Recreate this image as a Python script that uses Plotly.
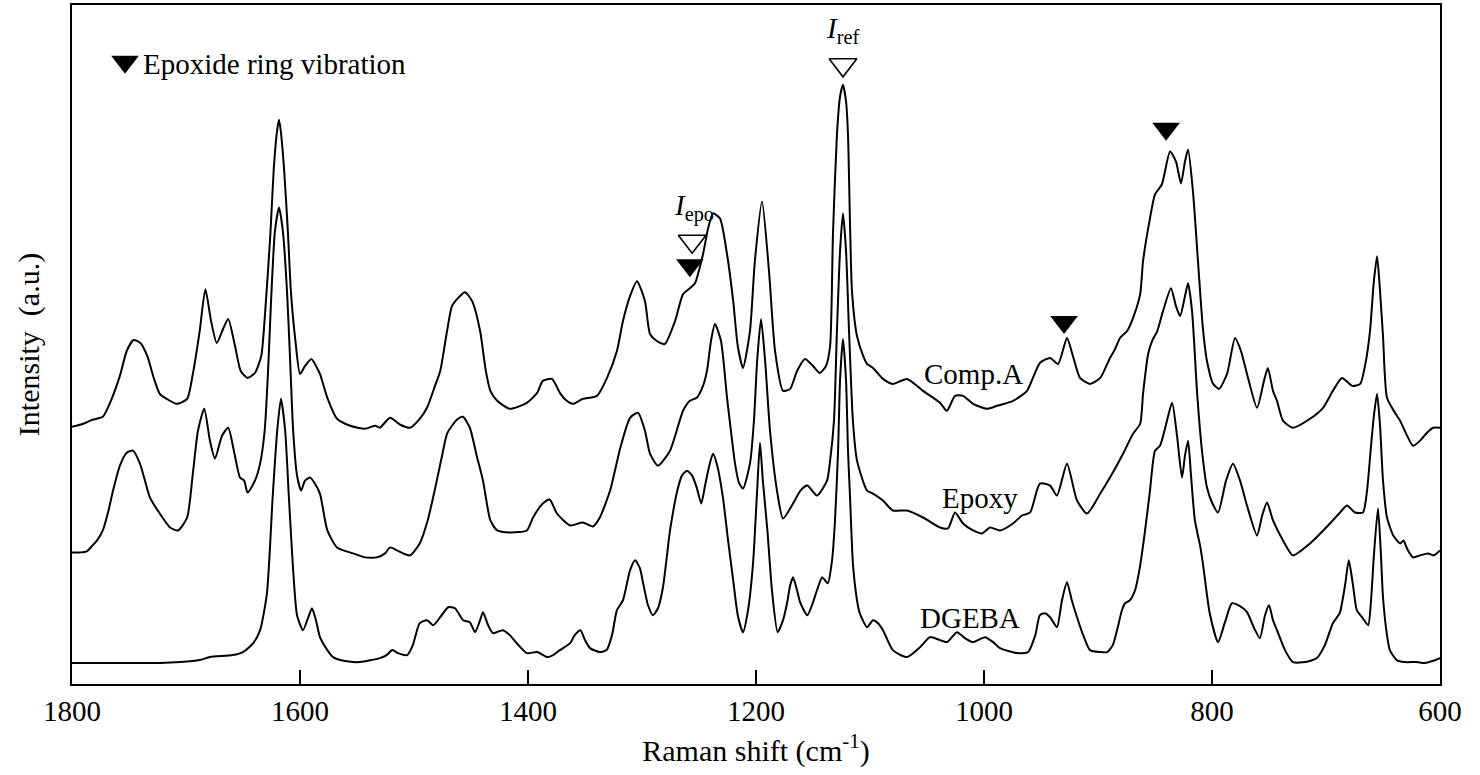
import plotly.graph_objects as go

# Raman spectra (wavenumber in cm^-1, stacked intensity in a.u.)
comp_a_wn = [1800, 1790, 1782, 1773, 1767, 1758, 1752, 1746, 1740, 1734, 1728, 1723, 1717, 1708, 1699,
             1694, 1688, 1683, 1678, 1673, 1667.5, 1663, 1657, 1652, 1646, 1639.5, 1634, 1631, 1626, 1623,
             1620, 1618.4, 1617, 1614, 1610.5, 1608, 1604, 1600, 1595.6, 1590, 1586, 1582.5, 1576, 1567.5,
             1556, 1543, 1534, 1530, 1521, 1512, 1503.5, 1495, 1488.6, 1481.6, 1477, 1471, 1466.7, 1461.4,
             1455.3, 1449, 1442, 1437, 1433, 1427, 1416, 1401, 1392, 1387, 1379, 1372, 1366, 1360.5, 1352,
             1339.5, 1330.7, 1322, 1316.7, 1310.5, 1304.4, 1297.4, 1293, 1287, 1280, 1271, 1264, 1258,
             1253.5, 1246.5, 1242, 1237.7, 1231.6, 1225.4, 1220, 1216, 1211.4, 1205.3, 1201, 1194.7,
             1188.6, 1183.3, 1176.3, 1170, 1164, 1157, 1150, 1144, 1138.6, 1135, 1132.5, 1129, 1126.3,
             1123.7, 1121, 1119.3, 1115.8, 1111.4, 1106, 1102.6, 1097.4, 1088.6, 1080, 1067.5, 1053.5,
             1038.6, 1032.5, 1025.4, 1018.4, 1009.6, 997.4, 988.6, 974.5, 962.3, 951, 942, 935, 927.2, 922,
             915.8, 907, 898, 889.5, 885, 880.7, 874.5, 869.3, 863, 860.5, 854.4, 850, 844, 836.8, 831.6,
             827.2, 823.7, 821, 816.7, 812.3, 808, 804.4, 799, 793.8, 786.8, 779.8, 774.6, 769.3, 760.5,
             754.4, 751, 746.5, 743, 737.7, 729, 714, 702.6, 694, 686, 677, 670, 665, 661.4, 658, 655.2,
             652.6, 650, 646.5, 639.5, 635, 623.7, 617.5, 611.4, 606, 600]
comp_a_int = [2.58, 2.61, 2.65, 2.68, 2.81, 3.09, 3.34, 3.45, 3.42, 3.29, 3.06, 2.91, 2.86, 2.81, 2.86,
              3.11, 3.54, 3.96, 3.64, 3.42, 3.56, 3.66, 3.39, 3.14, 3.07, 3.12, 3.29, 3.66, 4.51, 5.17,
              5.56, 5.66, 5.56, 5.17, 4.51, 3.94, 3.44, 3.11, 3.19, 3.26, 3.19, 3.11, 2.87, 2.66,
              2.59, 2.56, 2.59, 2.57, 2.67, 2.60, 2.57, 2.66, 2.77, 2.99, 3.14, 3.54, 3.79, 3.87,
              3.93, 3.84, 3.54, 3.14, 2.94, 2.84, 2.76, 2.82, 2.92, 3.04, 3.06, 2.92, 2.84, 2.81, 2.86,
              2.89, 3.07, 3.34, 3.64, 3.89, 4.04, 3.84, 3.51, 3.44, 3.41, 3.64, 3.91, 3.97,
              4.02, 4.31, 4.57, 4.72, 4.67, 4.31, 3.84, 3.39, 3.17, 3.54, 4.24, 4.84,
              4.14, 3.34, 2.94, 2.96, 3.14, 3.26, 3.19, 3.12, 3.19, 3.39, 4.51, 5.51, 5.89,
              6.01, 5.84, 5.51, 3.94, 3.49, 3.29, 3.21, 3.17, 3.06, 3.01, 3.06, 2.94,
              2.82, 2.74, 2.89, 2.89, 2.81, 2.76, 2.79, 2.84, 2.94, 3.22, 3.27, 3.21, 3.47, 3.29,
              3.07, 3.01, 3.07, 3.27, 3.36, 3.47, 3.54, 3.67, 3.91, 4.24, 4.67, 4.91, 5.01, 5.34, 5.24,
              5.02, 5.24, 5.36, 4.94, 4.24, 3.57, 3.24, 3.01, 2.96, 3.11, 3.47, 3.34, 3.11, 2.77,
              3.04, 3.17, 2.94, 2.84, 2.64, 2.57, 2.66, 2.77, 2.94, 3.07, 2.99, 3.01, 3.24, 3.54, 4.04, 4.29,
              3.94, 3.49, 2.87, 2.72, 2.64, 2.39, 2.44, 2.52, 2.57, 2.57]

epoxy_wn = [1800, 1793, 1787, 1782, 1778, 1773, 1768.4, 1764, 1758, 1752, 1746.5, 1740.4, 1736, 1731.6,
            1723, 1714, 1707, 1699, 1694, 1689.5, 1684, 1679, 1674.6, 1668.4, 1663, 1658, 1652.6, 1649,
            1646, 1639.5, 1635, 1631, 1628, 1625.4, 1622, 1618.4, 1615, 1611.4, 1609, 1606, 1602.6, 1599,
            1595.6, 1591, 1587, 1582.5, 1576, 1567.5, 1553.5, 1543, 1532.5, 1525.4, 1521, 1515, 1509.6,
            1503.5, 1495, 1488, 1480, 1475.4, 1471, 1466.7, 1461.4, 1457, 1451, 1445, 1439.5, 1433, 1427,
            1416, 1401, 1395.6, 1387, 1381, 1374.6, 1363, 1352, 1343, 1337, 1328, 1319, 1310.5, 1303.5,
            1297.4, 1293, 1286, 1275.4, 1264, 1258, 1252, 1246.5, 1243, 1239.5, 1236, 1230.7, 1225.4,
            1222, 1218.4, 1215, 1211.4, 1205.3, 1201.8, 1199, 1195.6, 1192, 1187.7, 1181.6, 1176.3,
            1167.5, 1161, 1155, 1146.5, 1137.7, 1135, 1131.6, 1129, 1126.3, 1123.7, 1121, 1118.4, 1115,
            1111.4, 1102.6, 1097.4, 1088.6, 1080, 1067.5, 1053.5, 1038.6, 1031.6, 1025.4, 1018.4, 1009.6,
            1001.7, 994.7, 986, 974.5, 966.7, 959.6, 951, 942, 936, 927.2, 918.4, 909.6, 898, 889.5, 878,
            869.3, 863, 860.5, 856, 852.6, 848, 843, 836, 831.6, 828, 823.7, 821, 817.5, 813, 808.8,
            804.4, 800, 794.7, 787.7, 781.6, 775.4, 769.3, 760.5, 756, 751.7, 746.5, 737.7, 729, 714,
            696.5, 687.7, 681.6, 674.6, 667.6, 664, 660.5, 658, 655.2, 652.6, 650, 646.5, 641, 635, 632,
            629, 623.7, 617.5, 610.5, 605.5, 600]
epoxy_int = [1.32, 1.32, 1.33, 1.39, 1.44, 1.54, 1.72, 1.94, 2.19, 2.32, 2.34, 2.21, 2.04, 1.87,
             1.71, 1.57, 1.54, 1.67, 2.11, 2.54, 2.76, 2.44, 2.26, 2.49, 2.57, 2.34, 2.07, 2.04,
             1.92, 2.04, 2.21, 2.54, 3.14, 3.84, 4.54, 4.78, 4.54, 3.94, 3.34, 2.54, 2.09, 1.94,
             2.04, 2.07, 2.01, 1.91, 1.54, 1.37, 1.31, 1.27, 1.27, 1.31, 1.37, 1.34, 1.31,
             1.29, 1.41, 1.64, 2.04, 2.29, 2.51, 2.59, 2.66, 2.68, 2.57, 2.29, 2.04, 1.64, 1.54,
             1.52, 1.54, 1.67, 1.81, 1.85, 1.71, 1.59, 1.62, 1.58, 1.67, 1.94, 2.37, 2.67, 2.72,
             2.54, 2.31, 2.19, 2.34, 2.74, 2.84, 2.87, 2.99, 3.14, 3.44, 3.61, 3.44, 2.87,
             2.54, 2.21, 2.02, 1.96, 2.21, 2.64, 3.24, 3.66, 3.24, 2.54, 1.94, 1.66,
             1.81, 1.94, 1.99, 1.89, 2.04, 2.24, 2.64, 3.54, 4.34, 4.72, 4.34, 3.54, 2.64,
             2.24, 1.94, 1.91, 1.84, 1.74, 1.74, 1.67, 1.57, 1.56, 1.72, 1.61, 1.54,
             1.51, 1.57, 1.54, 1.61, 1.69, 1.72, 2.01, 1.99, 1.89, 2.21, 1.84, 1.71, 1.91, 2.07, 2.31,
             2.51, 2.61, 2.91, 3.31, 3.44, 3.54, 3.74, 3.97, 3.79, 3.69, 3.89, 4.02, 3.74, 2.91, 2.34,
             1.97, 1.82, 1.72, 2.04, 2.21, 2.04, 1.79, 1.49, 1.69, 1.82, 1.64, 1.44, 1.29, 1.41,
             1.61, 1.72, 1.79, 1.72, 1.72, 1.94, 2.39, 2.69, 2.91, 2.59, 2.04, 1.67, 1.49, 1.41, 1.44,
             1.36, 1.27, 1.29, 1.31, 1.29, 1.34]

dgeba_wn = [1800, 1775.4, 1749, 1723, 1705, 1688, 1679, 1659, 1650, 1641, 1635, 1629, 1624, 1620,
            1616.7, 1613, 1609.6, 1606, 1602.6, 1597.4, 1593, 1589.5, 1586, 1582.5, 1576, 1571, 1560.5,
            1547.4, 1530, 1524, 1519, 1514, 1506, 1501, 1495, 1488.6, 1483, 1477, 1470, 1464, 1457, 1451,
            1446.5, 1442, 1439.5, 1435, 1430.7, 1422, 1416, 1410, 1401, 1392, 1383, 1378, 1372, 1363,
            1359, 1354, 1350, 1345.6, 1337, 1331, 1326.3, 1322, 1316.7, 1310.5, 1306, 1301.8, 1299,
            1294.7, 1290.4, 1286, 1281.6, 1275.4, 1269, 1265, 1260.5, 1256, 1252, 1248, 1244.7, 1241,
            1237.7, 1234, 1229, 1224.5, 1220, 1216, 1211.4, 1207, 1202.6, 1199, 1196.5, 1194, 1190, 1186,
            1181, 1176.3, 1172.8, 1170, 1167.5, 1164, 1161, 1155, 1150.9, 1146.5, 1142, 1139.5, 1137,
            1133.3, 1130.7, 1128, 1126.3, 1123.7, 1121, 1119.3, 1117.5, 1115, 1111.4, 1109, 1102.6,
            1097.4, 1093, 1088.6, 1080, 1067.5, 1056, 1047.4, 1038.6, 1032.5, 1023.7, 1016.7, 1009.6,
            999, 992, 986, 971, 961.4, 955, 951, 946.5, 942, 936, 931.6, 927.2, 923, 918.4, 913, 907, 898,
            892, 887, 883.3, 879, 876.3, 872, 867.5, 863, 858.7, 854.4, 850, 845.6, 841, 835, 830.7,
            826.3, 823.7, 821, 818.4, 815, 810.5, 808, 802, 794.7, 788.6, 782.5, 775.4, 769.3, 763, 758,
            753.5, 750, 746.5, 743, 736, 729, 718, 708, 701, 694, 688, 683.3, 680, 676.3, 673, 668.4, 663,
            660.5, 658, 654.4, 652, 650, 646.5, 644, 638, 631, 620.5, 613.5, 606.6, 600]
dgeba_int = [0.21, 0.21, 0.21, 0.21, 0.22, 0.24, 0.27, 0.29, 0.32, 0.41, 0.54, 0.91, 1.87, 2.54,
             2.86, 2.54, 1.84, 1.14, 0.69, 0.54, 0.66, 0.76, 0.64, 0.47, 0.34, 0.27, 0.23,
             0.22, 0.26, 0.29, 0.34, 0.31, 0.29, 0.39, 0.61, 0.64, 0.59, 0.67, 0.77, 0.76, 0.64, 0.62,
             0.52, 0.64, 0.72, 0.59, 0.51, 0.54, 0.49, 0.41, 0.31, 0.32, 0.27, 0.29, 0.34, 0.41,
             0.49, 0.54, 0.44, 0.36, 0.32, 0.34, 0.49, 0.74, 0.84, 1.14, 1.24, 1.16, 1.01,
             0.79, 0.69, 0.76, 0.97, 1.54, 1.94, 2.09, 2.14, 2.09, 1.97, 1.81, 1.99, 2.19,
             2.31, 2.19, 1.87, 1.44, 1.04, 0.69, 0.52, 0.74, 1.21, 1.94, 2.42, 2.04, 1.54, 0.94,
             0.52, 0.64, 0.81, 0.99, 1.07, 0.94, 0.81, 0.69, 0.79, 0.94, 1.07, 1.04, 1.01,
             1.24, 1.64, 2.34, 3.04, 3.46, 3.04, 2.34, 1.87, 1.21, 0.84, 0.71, 0.57,
             0.64, 0.61, 0.54, 0.34, 0.27, 0.37, 0.47, 0.44, 0.42, 0.52, 0.46, 0.42,
             0.47, 0.42, 0.36, 0.31, 0.32, 0.49, 0.69, 0.71, 0.67, 0.57, 0.84, 1.02, 0.84, 0.67, 0.49, 0.34, 0.32,
             0.32, 0.39, 0.54, 0.74, 0.81, 0.84, 0.94, 1.19, 1.54, 1.94, 2.34, 2.39, 2.57, 2.82, 2.49,
             2.07, 2.29, 2.44, 2.09, 1.64, 1.39, 1.21, 0.71, 0.42, 0.62, 0.81, 0.78, 0.72, 0.56, 0.46,
             0.69, 0.79, 0.64, 0.54, 0.34, 0.22, 0.22, 0.26, 0.39, 0.61, 0.71, 0.99, 1.24, 0.99, 0.74, 0.67, 0.59,
             0.84, 1.29, 1.76, 1.34, 0.87, 0.49, 0.34, 0.24, 0.22, 0.22, 0.21, 0.23, 0.26]

# Sample labels placed beside each spectrum
sample_names = ["Comp.A", "Epoxy", "DGEBA"]
sample_label_wn = [1009.6, 1003.5, 1012.3]
sample_label_int = [3.11, 1.87, 0.66]

# Epoxide ring vibration bands (filled markers) and the two reference bands (open markers)
epoxide_band_wn = [1258, 929.8, 840.3]
epoxide_band_int = [4.20, 3.63, 5.57]
ratio_band_wn = [1256, 1123.7]
ratio_band_int = [4.44, 6.21]
ratio_band_text = ["<i>I</i><sub>epo</sub>", "<i>I</i><sub>ref</sub>"]
ratio_text_wn = [1254.4, 1123.7]
ratio_text_int = [4.78, 6.56]

# Legend key
legend_wn = 1753.5
legend_int = 6.24
legend_text = "Epoxide ring vibration"

x_ticks = [1800, 1600, 1400, 1200, 1000, 800, 600]

FONT = "Liberation Serif, Times New Roman, serif"

fig = go.Figure()
for wn, inten in [(comp_a_wn, comp_a_int), (epoxy_wn, epoxy_int), (dgeba_wn, dgeba_int)]:
    fig.add_trace(go.Scatter(x=wn, y=inten, mode="lines",
                             line=dict(color="black", width=2, shape="spline", smoothing=0.6),
                             hoverinfo="skip", showlegend=False))

fig.add_trace(go.Scatter(x=epoxide_band_wn + [legend_wn], y=epoxide_band_int + [legend_int],
                         mode="markers",
                         marker=dict(symbol="triangle-down", size=24, color="black"),
                         hoverinfo="skip", showlegend=False))
fig.add_trace(go.Scatter(x=ratio_band_wn, y=ratio_band_int, mode="markers",
                         marker=dict(symbol="triangle-down-open", size=24, color="black",
                                     line=dict(width=1.6, color="black")),
                         hoverinfo="skip", showlegend=False))

for name, xw, yi in zip(sample_names, sample_label_wn, sample_label_int):
    fig.add_annotation(x=xw, y=yi, text=name, showarrow=False,
                       font=dict(family=FONT, size=29, color="black"))
for txt, xw, yi in zip(ratio_band_text, ratio_text_wn, ratio_text_int):
    fig.add_annotation(x=xw, y=yi, text=txt, showarrow=False,
                       font=dict(family=FONT, size=29, color="black"))
fig.add_annotation(x=legend_wn, y=legend_int - 0.02, text=legend_text, showarrow=False,
                   xanchor="left", xshift=16,
                   font=dict(family=FONT, size=29, color="black"))

fig.update_layout(
    width=1480, height=775,
    margin=dict(l=72, r=40, t=3, b=91),
    paper_bgcolor="white", plot_bgcolor="white",
    font=dict(family=FONT, color="black"),
    xaxis=dict(range=[1800, 600], tickvals=x_ticks, ticks="inside", ticklen=14, tickwidth=2,
               tickcolor="black", showline=True, linewidth=2, linecolor="black", mirror=True,
               showgrid=False, zeroline=False, tickfont=dict(size=29, family=FONT),
               title=dict(text="Raman shift (cm<sup>-1</sup>)", font=dict(size=30, family=FONT),
                          standoff=14)),
    yaxis=dict(range=[0, 6.81], showticklabels=False, ticks="", showline=True, linewidth=2,
               linecolor="black", mirror=True, showgrid=False, zeroline=False,
               title=dict(text="Intensity  (a.u.)", font=dict(size=30, family=FONT), standoff=22)),
)

fig.write_html("out.html")
